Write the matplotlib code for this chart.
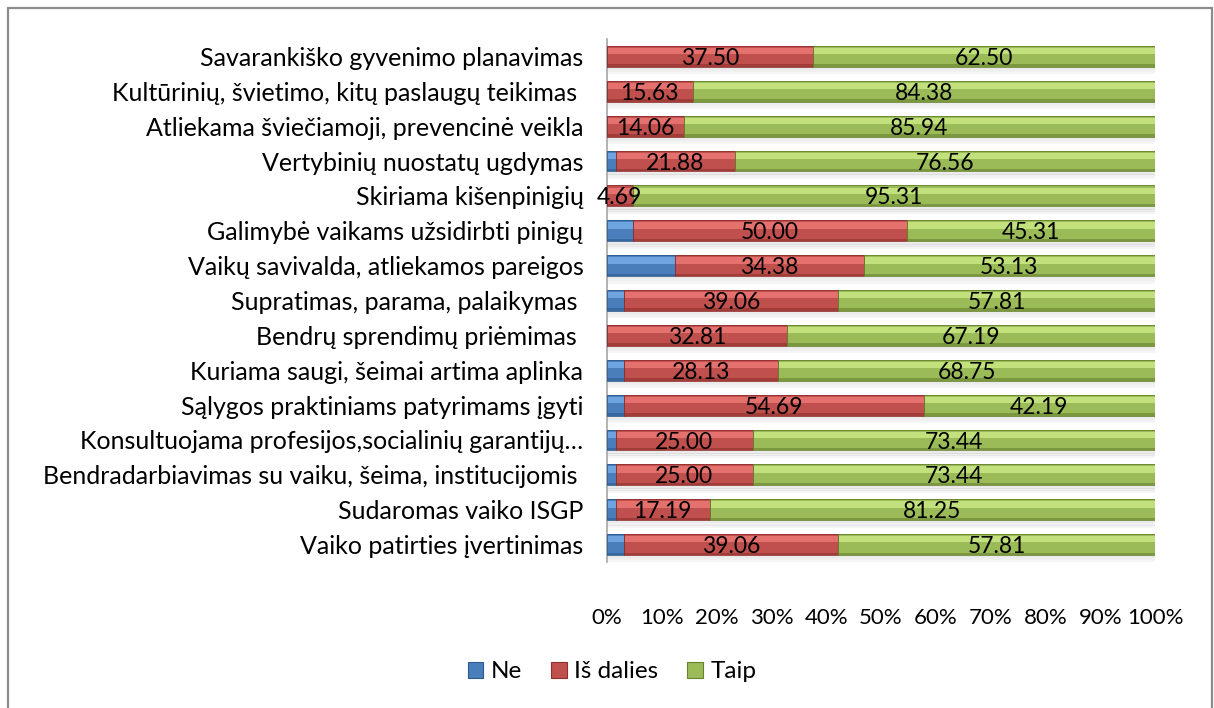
import numpy as np
import matplotlib.pyplot as plt
from matplotlib.patches import Patch

plt.rcParams['font.family'] = ['Lato', 'DejaVu Sans']

categories = [
    'Savarankiško gyvenimo planavimas',
    'Kultūrinių, švietimo, kitų paslaugų teikimas ',
    'Atliekama šviečiamoji, prevencinė veikla',
    'Vertybinių nuostatų ugdymas',
    'Skiriama kišenpinigių',
    'Galimybė vaikams užsidirbti pinigų',
    'Vaikų savivalda, atliekamos pareigos',
    'Supratimas, parama, palaikymas ',
    'Bendrų sprendimų priėmimas ',
    'Kuriama saugi, šeimai artima aplinka',
    'Sąlygos praktiniams patyrimams įgyti',
    'Konsultuojama profesijos,socialinių garantijų…',
    'Bendradarbiavimas su vaiku, šeima, institucijomis ',
    'Sudaromas vaiko ISGP',
    'Vaiko patirties įvertinimas',
]
ne = [0.00, 0.00, 0.00, 1.56, 0.00, 4.69, 12.50, 3.13, 0.00, 3.13, 3.13, 1.56, 1.56, 1.56, 3.13]
is_dalies = [37.50, 15.63, 14.06, 21.88, 4.69, 50.00, 34.38, 39.06, 32.81, 28.13, 54.69, 25.00, 25.00, 17.19, 39.06]
taip = [62.50, 84.38, 85.94, 76.56, 95.31, 45.31, 53.13, 57.81, 67.19, 68.75, 42.19, 73.44, 73.44, 81.25, 57.81]
series_names = ['Ne', 'Iš dalies', 'Taip']

# (base, highlight, dark edge) per series
palette = [
    ('#4A7EBB', '#78AEEA', '#2C5A8E'),
    ('#C0504D', '#EE7A77', '#8E2F2D'),
    ('#9BBB59', '#CDEB85', '#66822D'),
]

W, H = 1214, 708
fig = plt.figure(figsize=(W / 100, H / 100), dpi=100)

# outer chart frame
fig.patches.append(plt.Rectangle((8 / W, -0.1), (1212 - 8) / W, 1.1 - 8 / H,
                                 transform=fig.transFigure, fill=False,
                                 edgecolor='#8C8C8C', lw=1.6))

ax = fig.add_axes([607 / W, 1 - 562 / H, 548 / W, 523 / H])
n = len(categories)
y = np.arange(n)
h = 0.6

vals = [np.array(ne), np.array(is_dalies), np.array(taip)]
totals = sum(vals)
shares = [v / totals for v in vals]

# soft shadow under each bar
for k, off in enumerate([0.06, 0.12, 0.18]):
    ax.barh(y + h / 2 + off, np.ones(n), height=0.07, left=0,
            color='#000000', alpha=0.08 - k * 0.02, lw=0, zorder=1)

left = np.zeros(n)
for s, (share, (base, light, dark)) in enumerate(zip(shares, palette)):
    ax.barh(y, share, height=h, left=left, color=base, lw=0, zorder=2)
    ax.barh(y - h * 0.25, share, height=h * 0.3, left=left, color=light,
            lw=0, zorder=3, alpha=0.8)
    ax.barh(y + h * 0.44, share, height=h * 0.12, left=left, color=dark,
            lw=0, zorder=3, alpha=0.6)
    ax.barh(y, share, height=h, left=left, fill=False, edgecolor=dark,
            lw=0.6, zorder=4)
    if s > 0:
        for i in range(n):
            ax.text(left[i] + share[i] / 2, y[i] + 0.06,
                    f'{vals[s][i]:.2f}', ha='center', va='center',
                    fontsize=16.5, color='black', zorder=5)
    left = left + share

ax.set_xlim(0, 1)
ax.set_ylim(n - 0.5, -0.5)
ax.set_yticks(y)
ax.set_yticklabels(categories, fontsize=18)
ax.set_xticks(np.linspace(0, 1, 11))
ax.set_xticklabels([f'{p}%' for p in range(0, 101, 10)], fontsize=16)
ax.tick_params(axis='y', length=0, pad=17)
ax.tick_params(axis='x', length=0, pad=33)
for side in ['top', 'right', 'bottom']:
    ax.spines[side].set_visible(False)
ax.spines['left'].set_color('#A6A6A6')
ax.spines['left'].set_linewidth(1.2)
ax.set_facecolor('none')

handles = [Patch(facecolor=b, edgecolor=d, lw=0.8) for b, _, d in palette]
fig.legend(handles, series_names, loc='center', bbox_to_anchor=(612 / W, 1 - 672 / H),
           ncol=3, frameon=False, fontsize=17.5, handlelength=0.65,
           handleheight=0.65, handletextpad=0.3, columnspacing=1.2)

fig.savefig('out.png', dpi=100)
